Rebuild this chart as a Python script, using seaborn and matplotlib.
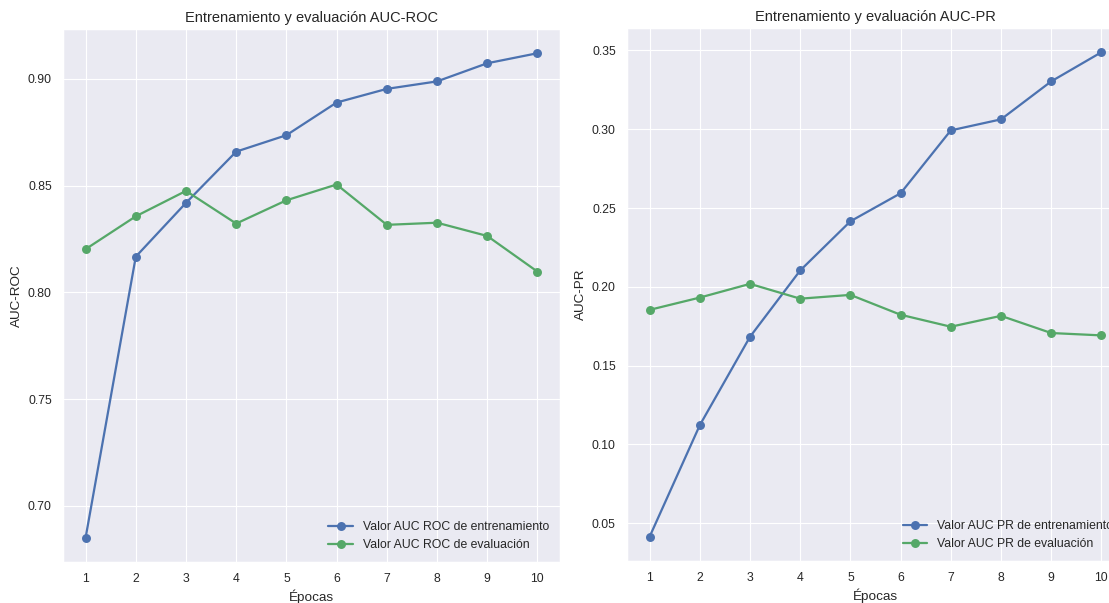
import pandas as pd
import numpy as np
from matplotlib import pyplot as plt
import seaborn as sns

epocas = list(range(1, 11))

roc_train = [0.685, 0.8167, 0.8419, 0.8659, 0.8736, 0.8889, 0.8953, 0.8988, 0.9073, 0.9120]
roc_eval = [0.8202, 0.8356, 0.8475, 0.8322, 0.8431, 0.8505, 0.8316, 0.8326, 0.8264, 0.8097]

pr_train = [0.0414, 0.1122, 0.1683, 0.2104, 0.2416, 0.2594, 0.2993, 0.3063, 0.3304, 0.3489]
pr_eval = [0.1854, 0.1932, 0.2019, 0.1925, 0.1949, 0.1823, 0.1747, 0.1816, 0.1707, 0.1692]

sns.set_theme(style="darkgrid")
plt.rcParams['font.family'] = ['Liberation Sans', 'DejaVu Sans']
plt.rcParams['axes.titlesize'] = 12.4
plt.rcParams['axes.labelsize'] = 11.4
plt.rcParams['xtick.labelsize'] = 10.4
plt.rcParams['ytick.labelsize'] = 10.4
plt.rcParams['legend.fontsize'] = 10.4
plt.rcParams['text.color'] = '#262626'
plt.rcParams['axes.labelcolor'] = '#262626'

dpi = 85
W, H = 1109, 603
fig = plt.figure(figsize=(W / dpi, H / dpi), dpi=dpi)

# left panel, right panel runs past the picture edge (cropped like the source)
ax1 = fig.add_axes([63 / W, (H - 562) / H, (560 - 63) / W, (562 - 29) / H])
ax2 = fig.add_axes([627 / W, (H - 561) / H, (1124 - 627) / W, (561 - 28) / H])

blue = "#4C72B0"
green = "#55A868"
kw = dict(marker='o', markersize=7.6, markeredgewidth=0, linewidth=1.9)

sns.lineplot(x=epocas, y=roc_train, ax=ax1, color=blue, label='Valor AUC ROC de entrenamiento', **kw)
sns.lineplot(x=epocas, y=roc_eval, ax=ax1, color=green, label='Valor AUC ROC de evaluación', **kw)
ax1.set_title('Entrenamiento y evaluación AUC-ROC')
ax1.set_xlabel('Épocas')
ax1.set_ylabel('AUC-ROC')
ax1.set_xticks(epocas)
ax1.legend(loc='lower right', frameon=False)

sns.lineplot(x=epocas, y=pr_train, ax=ax2, color=blue, label='Valor AUC PR de entrenamiento', **kw)
sns.lineplot(x=epocas, y=pr_eval, ax=ax2, color=green, label='Valor AUC PR de evaluación', **kw)
ax2.set_title('Entrenamiento y evaluación AUC-PR')
ax2.set_xlabel('Épocas')
ax2.set_ylabel('AUC-PR')
ax2.set_xticks(epocas)
ax2.legend(loc='lower right', frameon=False)

fig.savefig('out.png', dpi=dpi)
